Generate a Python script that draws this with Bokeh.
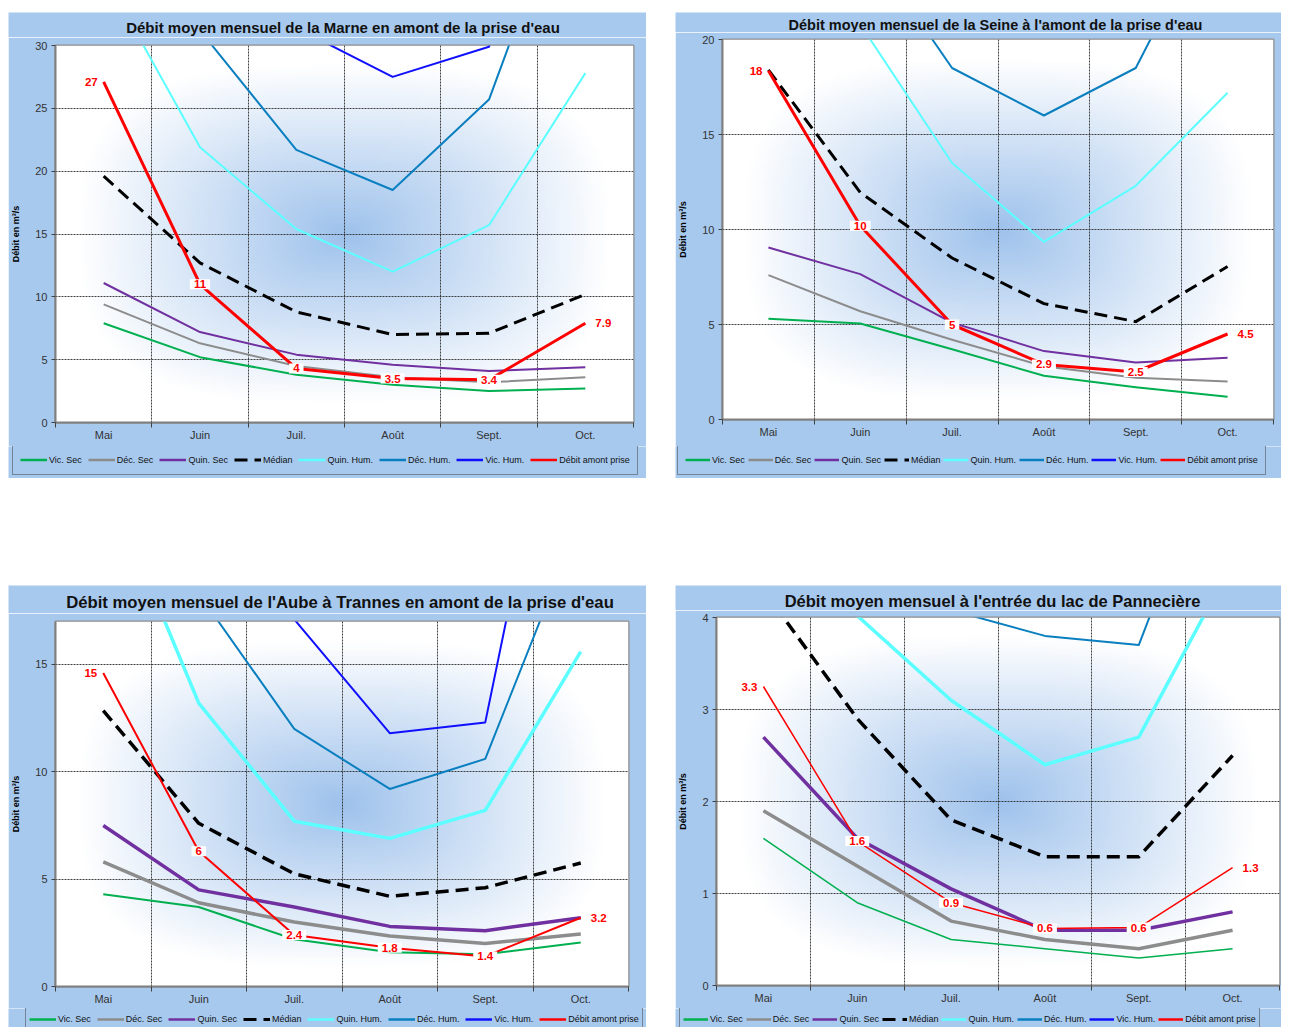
import numpy as np
from bokeh.plotting import figure
from bokeh.models import Range1d, FixedTicker, Legend, LegendItem, Spacer
from bokeh.layouts import column, row
from bokeh.embed import file_html
from bokeh.resources import INLINE
from bokeh.core.properties import value

# ---------------- data ----------------
months = ["Mai", "Juin", "Juil.", "Août", "Sept.", "Oct."]
series_names = ["Vic. Sec", "Déc. Sec", "Quin. Sec", "Médian",
                "Quin. Hum.", "Déc. Hum.", "Vic. Hum.", "Débit amont prise"]
series_colors = ["#00B050", "#8C8C8C", "#7030A0", "#000000",
                 "#5CFFFF", "#0A7FC0", "#1010FF", "#FF0000"]

# Marne
marne_vic_sec = [7.9, 5.2, 3.8, 3.0, 2.5, 2.7]
marne_dec_sec = [9.4, 6.3, 4.5, 3.6, 3.2, 3.6]
marne_quin_sec = [11.1, 7.2, 5.4, 4.6, 4.1, 4.4]
marne_median = [19.6, 12.7, 8.8, 7.0, 7.1, 10.2]
marne_quin_hum = [35.7, 21.9, 15.4, 12.0, 15.7, 27.8]
marne_dec_hum = [45.0, 31.2, 21.7, 18.5, 25.7, 46.5]
marne_vic_hum = [55.0, 42.0, 31.4, 27.5, 29.9, 60.0]
marne_debit = [27.1, 11.0, 4.3, 3.5, 3.4, 7.9]
marne_labels = ["27", "11", "4", "3.5", "3.4", "7.9"]

# Seine
seine_vic_sec = [5.3, 5.05, 3.7, 2.3, 1.7, 1.2]
seine_dec_sec = [7.6, 5.7, 4.2, 2.8, 2.2, 2.0]
seine_quin_sec = [9.05, 7.65, 5.1, 3.6, 3.0, 3.25]
seine_median = [18.4, 11.95, 8.5, 6.1, 5.15, 8.05]
seine_quin_hum = [28.0, 20.8, 13.5, 9.35, 12.3, 17.2]
seine_dec_hum = [35.0, 25.5, 18.5, 16.0, 18.5, 27.9]
seine_vic_hum = [45.0, 36.0, 28.0, 24.0, 27.0, 40.0]
seine_debit = [18.35, 10.2, 5.0, 2.9, 2.5, 4.5]
seine_labels = ["18", "10", "5", "2.9", "2.5", "4.5"]

# Aube à Trannes
aube_vic_sec = [4.3, 3.7, 2.2, 1.6, 1.5, 2.05]
aube_dec_sec = [5.8, 3.9, 3.0, 2.35, 2.0, 2.45]
aube_quin_sec = [7.5, 4.5, 3.7, 2.8, 2.6, 3.2]
aube_median = [12.85, 7.6, 5.25, 4.2, 4.6, 5.75]
aube_quin_hum = [23.9, 13.2, 7.7, 6.9, 8.2, 15.6]
aube_dec_hum = [25.0, 18.3, 12.0, 9.2, 10.6, 21.8]
aube_vic_hum = [30.0, 24.0, 17.1, 11.8, 12.3, 33.9]
aube_debit = [14.6, 6.3, 2.4, 1.8, 1.4, 3.2]
aube_labels = ["15", "6", "2.4", "1.8", "1.4", "3.2"]

# Pannecière
pann_vic_sec = [1.6, 0.9, 0.5, 0.4, 0.3, 0.4]
pann_dec_sec = [1.9, 1.3, 0.7, 0.5, 0.4, 0.6]
pann_quin_sec = [2.7, 1.6, 1.05, 0.6, 0.6, 0.8]
pann_median = [4.3, 2.9, 1.8, 1.4, 1.4, 2.5]
pann_quin_hum = [5.5, 4.02, 3.1, 2.4, 2.7, 4.6]
pann_dec_hum = [6.5, 5.0, 4.08, 3.8, 3.7, 6.35]
pann_vic_hum = [9.0, 7.0, 6.0, 5.0, 5.2, 10.0]
pann_debit = [3.25, 1.57, 0.9, 0.62, 0.63, 1.28]
pann_labels = ["3.3", "1.6", "0.9", "0.6", "0.6", "1.3"]

PANEL_BG = "#A7C9EE"
FONT = "Liberation Sans"


def gradient_image():
    nx, ny = 180, 140
    gx = np.linspace(-1, 1, nx)
    gy = np.linspace(-1, 1, ny)
    U, V = np.meshgrid(gx / 0.92, gy / 0.9)
    d = (np.abs(U) ** 3 + np.abs(V) ** 3) ** (1.0 / 3.0)
    f = np.clip(1 - d, 0, 1) ** 1.0
    img = np.zeros((ny, nx), dtype=np.uint32)
    view = img.view(dtype=np.uint8).reshape((ny, nx, 4))
    center = (158, 194, 236)
    for k, c in enumerate(center):
        view[:, :, k] = (255 - (255 - c) * f).astype(np.uint8)
    view[:, :, 3] = 255
    return img


def line_style(name, color, lw):
    dash = "13 7" if name == "Médian" else "solid"
    return dict(line_color=color, line_width=lw, line_dash=dash, line_join="round")


def strip(W, H):
    q = figure(width=W, height=H, output_backend="svg", toolbar_location=None,
               x_range=Range1d(0, W), y_range=Range1d(0, H), title=None,
               x_axis_type=None, y_axis_type=None, min_border=0,
               border_fill_color=PANEL_BG, background_fill_color=PANEL_BG)
    q.frame_align = False
    q.grid.visible = False
    q.outline_line_color = None
    return q


def make_title(text, W, H, bl, br, center_below_top, size):
    q = strip(W, H)
    q.text(x=[bl + (W - bl - br) / 2.0], y=[H - center_below_top], text=[text],
           text_align="center", text_baseline="middle", text_font=value(FONT),
           text_font_style="bold", text_font_size=size, text_color="#111111")
    return q


def make_chart(series, labels, y_top, y_step, widths, dims):
    W, H, bl, br, bt, bb = dims
    n = len(months)
    xs = list(range(1, n + 1))
    p = figure(width=W, height=H, output_backend="svg", toolbar_location=None,
               x_range=Range1d(0.5, n + 0.5), y_range=Range1d(0, y_top), title=None,
               min_border_left=bl, min_border_right=br,
               min_border_top=bt, min_border_bottom=bb,
               border_fill_color=PANEL_BG, background_fill_color="white")
    p.frame_align = False

    p.image_rgba(image=[gradient_image()], x=0.5, y=0, dw=n, dh=y_top, level="image")

    yticks = [float(t) for t in np.arange(0, y_top + 1e-9, y_step)]
    p.xaxis.ticker = FixedTicker(ticks=xs, minor_ticks=[i + 0.5 for i in range(0, n + 1)])
    p.xaxis.major_label_overrides = {i + 1: m for i, m in enumerate(months)}
    p.yaxis.ticker = FixedTicker(ticks=yticks)
    p.xgrid.ticker = FixedTicker(ticks=[i + 0.5 for i in range(1, n)])
    p.ygrid.ticker = FixedTicker(ticks=[t for t in yticks if 0 < t < y_top])
    for g in (p.xgrid[0], p.ygrid[0]):
        g.grid_line_color = "#2A2A2A"
        g.grid_line_dash = "2 1"
        g.grid_line_width = 1
        g.grid_line_alpha = 0.9

    for ax in (p.xaxis[0], p.yaxis[0]):
        ax.axis_line_color = "#7F7F7F"
        ax.axis_line_width = 2
        ax.major_tick_line_color = "#404040"
        ax.minor_tick_line_color = "#404040"
        ax.major_label_text_font = FONT
        ax.major_label_text_font_size = "11px"
        ax.major_label_text_color = "#333333"
    p.xaxis.major_tick_out = 0
    p.xaxis.major_tick_in = 0
    p.xaxis.minor_tick_out = 5
    p.xaxis.minor_tick_in = 0
    p.xaxis.major_label_standoff = 1
    p.yaxis.major_tick_out = 4
    p.yaxis.major_tick_in = 0
    p.yaxis.major_label_standoff = 4
    p.yaxis.axis_label = "Débit en m³/s"
    p.yaxis.axis_label_text_font = FONT
    p.yaxis.axis_label_text_font_size = "9px"
    p.yaxis.axis_label_text_font_style = "bold"
    p.yaxis.axis_label_text_color = "#000000"
    p.yaxis.axis_label_standoff = 11
    p.outline_line_color = "#8C8C8C"
    p.outline_line_width = 2

    for name, vals, color, lw in zip(series_names, series, series_colors, widths):
        p.line(xs, vals, **line_style(name, color, lw))

    red = series[-1]
    common = dict(text_font=value(FONT), text_font_style="bold", text_font_size="11.5px",
                  text_color="#FF0000", text_baseline="middle",
                  background_fill_color="white",
                  padding=dict(left=4, right=4, top=1, bottom=1))
    p.text(x=xs[:1], y=red[:1], text=labels[:1], text_align="right", x_offset=-2, **common)
    p.text(x=xs[1:-1], y=red[1:-1], text=labels[1:-1], text_align="center", **common)
    p.text(x=xs[-1:], y=red[-1:], text=labels[-1:], text_align="left", x_offset=6, **common)
    return p


def make_legend(W, H, series, loc, pad, gh, spacing, gw):
    n = len(months)
    xs = list(range(1, n + 1))
    q = strip(W, H)
    # proxy lines for the legend keys, outside the strip's visible ranges
    q.x_range = Range1d(-3, -2)
    q.y_range = Range1d(-3, -2)
    items = []
    for name, vals, color in zip(series_names, series, series_colors):
        r = q.line(xs, vals, **line_style(name, color, 3 if name == "Médian" else 2.5))
        items.append(LegendItem(label=name, renderers=[r]))
    leg = Legend(items=items, orientation="horizontal", location=loc)
    leg.background_fill_color = PANEL_BG
    leg.background_fill_alpha = 1.0
    leg.border_line_color = "#404040"
    leg.border_line_width = 1.5
    leg.label_text_font = FONT
    leg.label_text_font_size = "9px"
    leg.label_text_color = "#111111"
    leg.glyph_width = gw
    leg.glyph_height = gh
    leg.label_height = gh
    leg.label_standoff = 2
    leg.label_width = 10
    leg.spacing = spacing
    leg.padding = pad
    leg.margin = 0
    q.add_layout(leg, "center")
    return q


w_top = [2, 2, 2, 3, 2, 2, 2, 3]
w_aube = [2, 3.5, 3.5, 3.5, 3.5, 2, 2, 2]
w_pann = [1.5, 3.5, 3.5, 3.5, 3.5, 2, 2, 1.5]

marne = [marne_vic_sec, marne_dec_sec, marne_quin_sec, marne_median,
         marne_quin_hum, marne_dec_hum, marne_vic_hum, marne_debit]
seine = [seine_vic_sec, seine_dec_sec, seine_quin_sec, seine_median,
         seine_quin_hum, seine_dec_hum, seine_vic_hum, seine_debit]
aube = [aube_vic_sec, aube_dec_sec, aube_quin_sec, aube_median,
        aube_quin_hum, aube_dec_hum, aube_vic_hum, aube_debit]
pann = [pann_vic_sec, pann_dec_sec, pann_quin_sec, pann_median,
        pann_quin_hum, pann_dec_hum, pann_vic_hum, pann_debit]

t1 = make_title("Débit moyen mensuel de la Marne en amont de la prise d'eau",
                638, 25, 44, 13, 15, "15px")
c1 = make_chart(marne, marne_labels, 30, 5, w_top, (638, 409, 44, 13, 8, 24))
l1 = make_legend(638, 32, marne, (4, 3), 7, 15, 6, 27)

t2 = make_title("Débit moyen mensuel de la Seine à l'amont de la prise d'eau",
                606, 20, 42, 8, 12, "14.5px")
c2 = make_chart(seine, seine_labels, 20, 5, w_top, (606, 414, 42, 8, 7, 27))
l2 = make_legend(606, 32, seine, (2, 3), 7, 15, 3, 25)

t3 = make_title("Débit moyen mensuel de l'Aube à Trannes en amont de la prise d'eau",
                638, 28, 43, 18, 17, "16.7px")
c3 = make_chart(aube, aube_labels, 17, 5, w_aube, (638, 395, 43, 18, 8, 22))
l3 = make_legend(638, 19, aube, (17, -4), 3, 16, 6, 27)

t4 = make_title("Débit moyen mensuel à l'entrée du lac de Pannecière",
                606, 25, 30, 2, 15, "16.5px")
c4 = make_chart(pann, pann_labels, 4, 1, w_pann, (606, 398, 30, 2, 7, 23))
l4 = make_legend(606, 19, pann, (4, -4), 3, 16, 3, 25)

layout = column(Spacer(height=12),
                row(Spacer(width=8), column(t1, c1, l1), Spacer(width=29), column(t2, c2, l2)),
                Spacer(height=107),
                row(Spacer(width=8), column(t3, c3, l3), Spacer(width=29), column(t4, c4, l4)))

open("out.html", "w").write(file_html(layout, INLINE))
